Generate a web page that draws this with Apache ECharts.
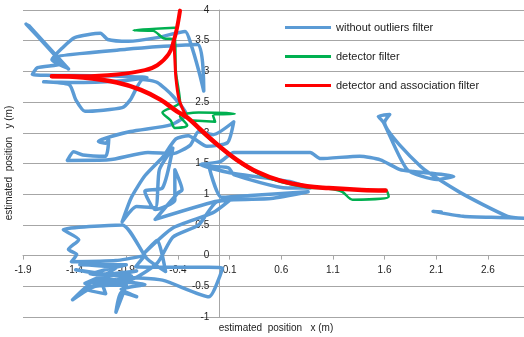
<!DOCTYPE html>
<html>
<head>
<meta charset="utf-8">
<script src="https://cdn.jsdelivr.net/npm/echarts@6/dist/echarts.min.js"></script>
<style>
  html, body { margin: 0; padding: 0; background: #fff; }
  #chart { width: 524px; height: 337px; }
</style>
</head>
<body>
<div id="chart"></div>
<script>
// tick labels on the x axis
const xTicks = [-1.9, -1.4, -0.9, -0.4, 0.1, 0.6, 1.1, 1.6, 2.1, 2.6];
const xRange = [-1.9, 2.95];
const yRange = [-1, 4];

// raw trajectory, no outlier filtering
const blueTrack = [
  [-1.87, 3.77], [-1.46, 3.04], [-1.84, 3.74], [-1.5, 3.1], [-1.86, 3.76], [-1.48, 3.06],
  [-1.62, 3.19], [-1.52, 3.38], [-1.4, 3.55], [-1.15, 3.62], [-1.08, 3.52], [-0.88, 3.49],
  [-0.6, 3.55], [-0.33, 3.65], [-0.27, 3.42], [-0.2, 3.02], [-0.15, 2.68],
  [-0.21, 3.44], [-0.9, 3.36], [-1.6, 3.22], [-1.54, 3.12], [-1.76, 3.06], [-1.81, 2.95],
  [-1.2, 2.93], [-0.7, 2.9], [-1.0, 2.84], [-1.44, 2.82], [-1.7, 2.83], [-1.45, 2.78],
  [-1.39, 2.54], [-1.3, 2.35], [-0.94, 2.41], [-0.86, 2.54], [-0.74, 2.87], [-0.6, 2.82],
  [-0.45, 2.6], [-0.32, 2.3], [-0.47, 2.13], [-0.86, 2.02], [-1.17, 1.86], [-1.1, 1.83],
  [-1.07, 1.89], [-1.1, 1.62], [-1.32, 1.64], [-1.41, 1.69], [-1.47, 1.55], [-1.07, 1.56],
  [-0.69, 1.68], [-0.45, 1.66], [-0.28, 1.8], [-0.2, 2.02], [-0.06, 1.97], [0.14, 2.18],
  [0.08, 1.84], [-0.12, 1.78], [-0.3, 1.95], [-0.42, 1.9],
  [-0.55, 1.6], [-0.72, 1.3], [-0.85, 0.95], [-0.94, 0.55], [-0.8, 0.8], [-0.62, 0.78],
  [-0.58, 1.4], [-0.45, 1.75], [-0.55, 1.1], [-0.72, 1.05], [-0.62, 0.75], [-0.43, 0.9],
  [-0.43, 1.4], [-0.36, 1.07], [-0.4, 1.02], [-0.62, 0.59], [-0.04, 0.88], [0.1, 0.9],
  [-0.06, 0.7], [-0.45, 0.45], [-0.72, 0.05], [-0.6, 0.25], [-0.52, -0.26], [-0.7, -0.05],
  [-0.94, 0.5], [-1.51, 0.42], [-1.36, 0.26], [-1.46, 0.1], [-1.38, 0.02], [-1.43, -0.1],
  [-1.0, -0.08], [-0.72, 0.0], [-0.81, -0.18], [0.03, -0.2], [-0.1, -0.67], [-0.55, -0.4],
  [-0.9, -0.35], [-1.39, -0.23], [-1.1, -0.3], [-0.8, -0.25], [-1.2, -0.4], [-1.42, -0.72],
  [-1.2, -0.5], [-0.9, -0.48], [-1.0, -0.92], [-0.95, -0.6], [-0.8, -0.67], [-0.95, -0.55],
  [-0.72, -0.47], [-1.05, -0.42], [-1.3, -0.45], [-1.0, -0.2], [-1.35, -0.15], [-0.9, -0.15],
  [-1.25, -0.3], [-0.85, -0.33], [-1.3, -0.55], [-1.1, -0.62], [-1.15, -0.38], [-0.88, -0.4],
  [-0.6, -0.12], [-0.45, 0.3], [-0.2, 0.5], [-0.02, 0.88], [0.5, 0.93], [0.86, 1.04],
  [0.3, 0.98], [0.02, 0.95], [-0.1, 1.45], [0.09, 1.43], [0.14, 1.32], [0.66, 1.1],
  [0.88, 1.1], [0.7, 1.2], [0.1, 1.35], [-0.18, 1.48], [0.01, 1.53], [0.14, 1.68],
  [0.88, 1.68], [0.98, 1.58], [1.36, 1.62], [1.56, 1.56], [1.75, 1.4], [1.88, 1.37],
  [2.27, 1.29], [2.11, 1.24], [1.82, 1.4], [1.59, 2.17], [1.54, 2.27], [1.65, 2.3],
  [1.6, 2.17], [1.95, 1.45], [2.33, 1.03], [2.79, 0.64], [2.95, 0.61], [2.7, 0.62],
  [2.36, 0.64], [2.07, 0.72], [2.15, 0.71]
];

// detector filter
const greenTrack = [
  [-0.43, 3.71], [-0.83, 3.67], [-0.64, 3.66], [-0.54, 3.54], [-0.43, 3.52],
  [-0.42, 3.0], [-0.38, 2.5], [-0.55, 2.33], [-0.47, 2.2], [-0.43, 2.08], [-0.31, 2.12],
  [-0.38, 2.27], [-0.2, 2.33], [0.15, 2.31], [-0.06, 2.28], [-0.04, 2.18], [-0.25, 2.2],
  [-0.18, 2.03], [-0.02, 1.8], [0.17, 1.55], [0.37, 1.34], [0.59, 1.2], [0.85, 1.11],
  [1.06, 1.09], [1.19, 1.04], [1.29, 0.91], [1.64, 0.96], [1.61, 1.07], [1.4, 1.06]
];

// detector and association filter (three strokes)
const redUpper = [
  [-0.38, 3.99], [-0.41, 3.7], [-0.44, 3.5], [-0.49, 3.28], [-0.6, 3.1], [-0.72, 3.02],
  [-0.99, 2.95], [-1.32, 2.92], [-1.62, 2.92]
];
const redLower = [
  [-1.62, 2.92], [-1.32, 2.9], [-0.99, 2.82], [-0.76, 2.7], [-0.57, 2.54], [-0.41, 2.35],
  [-0.31, 2.25], [-0.18, 2.05], [-0.02, 1.81], [0.17, 1.56], [0.37, 1.36], [0.59, 1.22],
  [0.85, 1.13], [1.06, 1.1], [1.38, 1.07], [1.61, 1.06]
];
const redStem = [
  [-0.44, 3.5], [-0.43, 3.2], [-0.42, 2.9], [-0.39, 2.55], [-0.33, 2.3]
];

const FONT = 'Liberation Sans';
const GRID = '#a6a6a6';
const W = 524, H = 337;
const G = { left: 23, right: 0, top: 10, bottom: 20 };
// axes cross at the origin, so shift each one inside the grid
const plotW = W - G.left - G.right;
const plotH = H - G.top - G.bottom;
const xShift = plotH * (0 - yRange[0]) / (yRange[1] - yRange[0]);
const yShift = plotW * (0 - xRange[0]) / (xRange[1] - xRange[0]);

const mkLine = (name, data, color, width, smooth) => ({
  name: name,
  type: 'line',
  data: data,
  symbol: 'none',
  smooth: smooth,
  lineStyle: { color: color, width: width, cap: 'round', join: 'round' },
  itemStyle: { color: color },
});

const chart = echarts.init(document.getElementById('chart'));
chart.setOption({
  animation: false,
  grid: G,
  legend: {
    orient: 'vertical',
    left: 285,
    top: 22,
    padding: 0,
    icon: 'rect',
    itemWidth: 46,
    itemHeight: 3,
    itemGap: 18,
    textStyle: { fontFamily: FONT, fontSize: 11, color: '#222' },
    data: ['without outliers filter', 'detector filter', 'detector and association filter'],
  },
  xAxis: {
    type: 'value',
    min: xRange[0],
    max: xRange[1],
    offset: -xShift,
    axisLine: { onZero: false, lineStyle: { color: GRID } },
    axisTick: { show: true, customValues: xTicks, length: 4, lineStyle: { color: GRID } },
    axisLabel: {
      customValues: xTicks,
      formatter: (v) => v.toFixed(1),
      margin: 10,
      fontFamily: FONT,
      fontSize: 10,
      color: '#222',
    },
    splitLine: { show: false },
  },
  yAxis: {
    type: 'value',
    min: yRange[0],
    max: yRange[1],
    interval: 0.5,
    offset: -yShift,
    axisLine: { show: true, onZero: false, lineStyle: { color: GRID } },
    axisTick: { show: false },
    axisLabel: { margin: 10, fontFamily: FONT, fontSize: 10, color: '#222' },
    splitLine: { lineStyle: { color: GRID, width: 1 } },
  },
  graphic: [
    {
      type: 'text',
      x: 276,
      y: 328,
      style: {
        text: 'estimated  position   x (m)',
        fontFamily: FONT,
        fontSize: 10,
        fill: '#222',
        textAlign: 'center',
        textVerticalAlign: 'middle',
      },
    },
    {
      type: 'text',
      x: 9,
      y: 163,
      rotation: Math.PI / 2,
      style: {
        text: 'estimated  position   y (m)',
        fontFamily: FONT,
        fontSize: 10,
        fill: '#222',
        textAlign: 'center',
        textVerticalAlign: 'middle',
      },
    },
  ],
  series: [
    mkLine('without outliers filter', blueTrack, '#5b9bd5', 3.5, 0.2),
    mkLine('detector filter', greenTrack, '#00b050', 2.5, 0.3),
    mkLine('detector and association filter', redUpper, '#ff0000', 4, 0.4),
    mkLine('detector and association filter', redLower, '#ff0000', 4.5, 0.4),
    mkLine('detector and association filter', redStem, '#ff0000', 3, 0.3),
  ],
});
</script>
</body>
</html>
